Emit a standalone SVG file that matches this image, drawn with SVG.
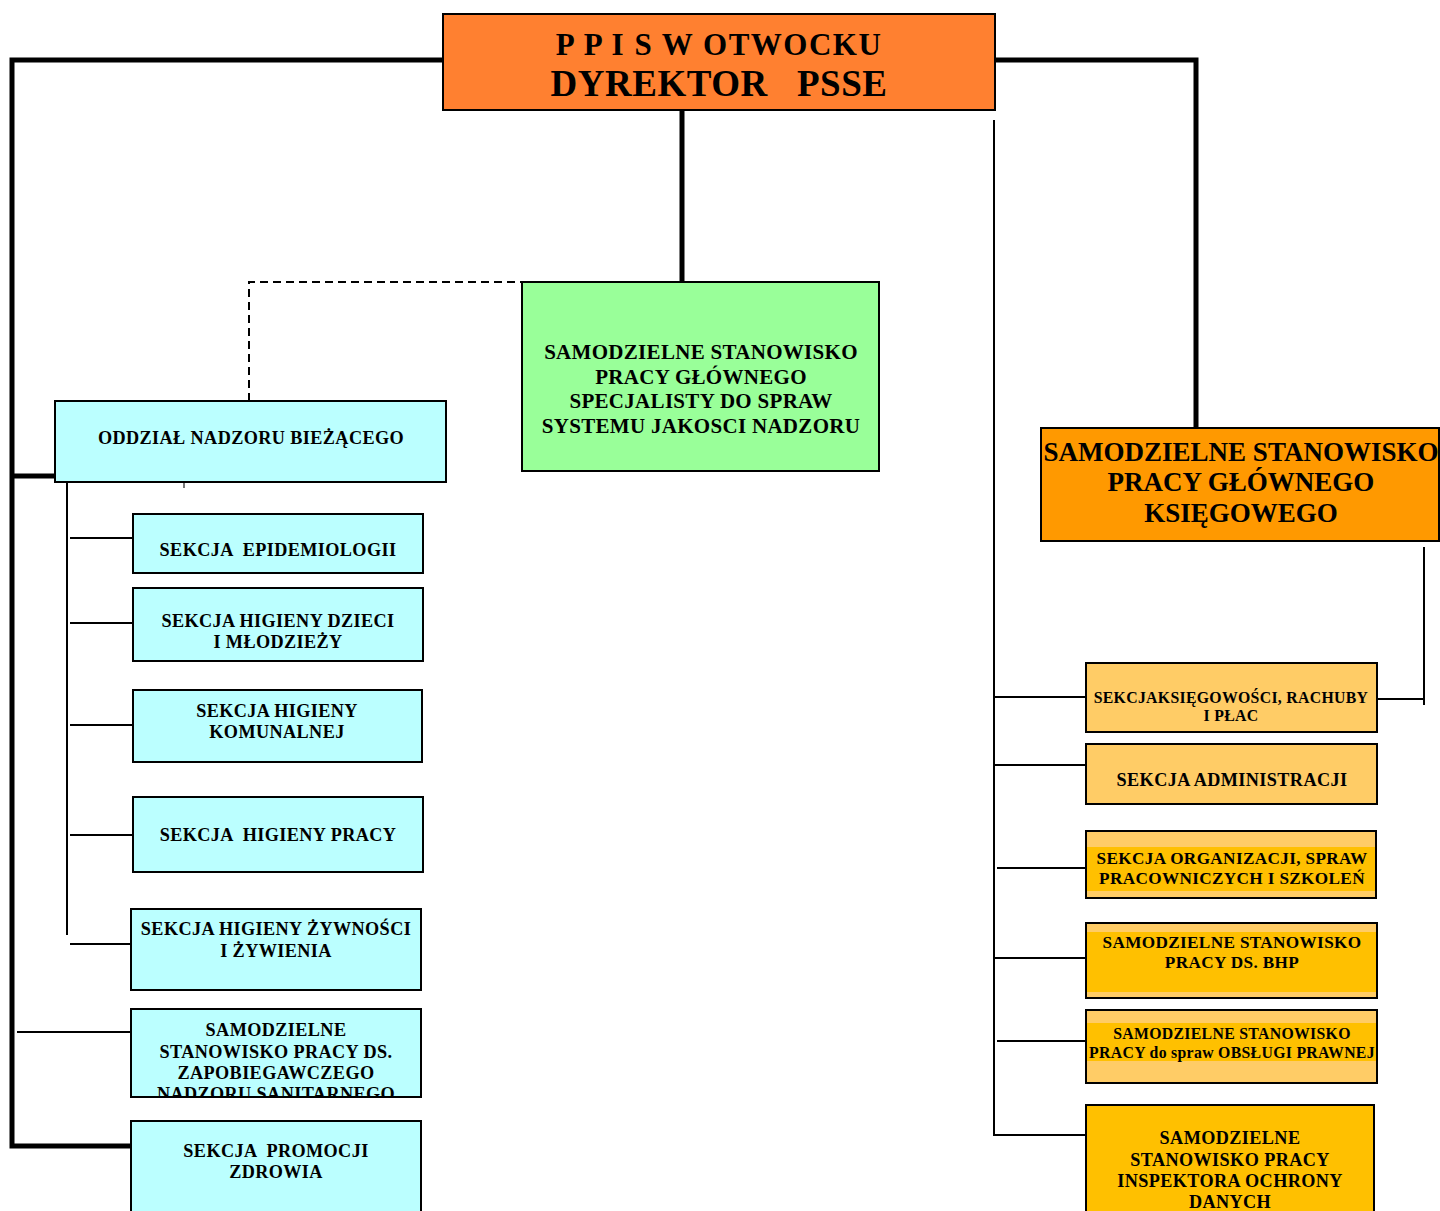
<svg xmlns="http://www.w3.org/2000/svg" width="1440" height="1211" viewBox="0 0 1440 1211">
<defs>
<style>
text{font-family:"Liberation Serif","Times New Roman",serif;font-weight:bold;fill:#000;text-anchor:middle}
.box{stroke:#000;stroke-width:2}
.cyan{fill:#BBFFFF}
.lo{fill:#FFCC66}
.band{fill:#FFC000}
.thick{stroke:#000;stroke-width:5;fill:none}
.thin{stroke:#000;stroke-width:2;fill:none}
.s17{font-size:18.2px;letter-spacing:0.4px}
.s16{font-size:17.2px;letter-spacing:0.35px}
.s15{font-size:15.8px;letter-spacing:0.3px}
.g{font-size:21px;letter-spacing:0.3px}
</style>
<clipPath id="c6"><rect x="131" y="1009" width="290" height="87"/></clipPath>
</defs>
<rect width="1440" height="1211" fill="#fff"/>
<g id="connectors">
<polyline class="thick" points="443,60 12,60 12,1146 131,1146"/>
<line class="thick" x1="14" y1="476" x2="55" y2="476"/>
<line class="thick" x1="682" y1="110" x2="682" y2="282"/>
<polyline class="thick" points="995,60 1196,60 1196,428"/>
<polyline fill="none" stroke="#000" stroke-width="2" stroke-dasharray="8,5" points="249,401 249,282 580,282"/>
<line class="thin" x1="67" y1="482" x2="67" y2="935"/>
<line x1="184" y1="482" x2="184" y2="488" stroke="#777" stroke-width="2"/>
<line class="thin" x1="70" y1="538" x2="133" y2="538"/>
<line class="thin" x1="70" y1="623" x2="133" y2="623"/>
<line class="thin" x1="70" y1="725" x2="133" y2="725"/>
<line class="thin" x1="70" y1="835" x2="133" y2="835"/>
<line class="thin" x1="70" y1="944" x2="131" y2="944"/>
<line class="thin" x1="17" y1="1032" x2="131" y2="1032"/>
<line class="thin" x1="994" y1="120" x2="994" y2="1136"/>
<line class="thin" x1="994" y1="697" x2="1086" y2="697"/>
<line class="thin" x1="994" y1="765" x2="1086" y2="765"/>
<line class="thin" x1="997" y1="868" x2="1086" y2="868"/>
<line class="thin" x1="994" y1="958" x2="1086" y2="958"/>
<line class="thin" x1="997" y1="1041" x2="1086" y2="1041"/>
<line class="thin" x1="994" y1="1135" x2="1086" y2="1135"/>
<polyline class="thin" points="1424,547 1424,705"/>
<line class="thin" x1="1377" y1="699" x2="1424" y2="699"/>
</g>
<g id="n-dyrektor">
<rect class="box" x="443" y="14" width="552" height="96" fill="#FF8030"/>
<text x="719" y="55" font-size="31" letter-spacing="1.5">P P I S  W OTWOCKU</text>
<text x="719" y="96" font-size="37" letter-spacing="0.5" xml:space="preserve">DYREKTOR   PSSE</text>
</g>
<g id="n-jakosc">
<rect class="box" x="522" y="282" width="357" height="189" fill="#99FF99"/>
<text x="701" y="359" class="g">SAMODZIELNE STANOWISKO</text>
<text x="701" y="384" class="g">PRACY GŁÓWNEGO</text>
<text x="701" y="408" class="g">SPECJALISTY DO SPRAW</text>
<text x="701" y="433" class="g">SYSTEMU JAKOSCI NADZORU</text>
</g>
<g id="n-oddzial">
<rect class="box cyan" x="55" y="401" width="391" height="81"/>
<text x="251" y="444" class="s17">ODDZIAŁ NADZORU BIEŻĄCEGO</text>
</g>
<g id="n-epid">
<rect class="box cyan" x="133" y="514" width="290" height="59"/>
<text x="278" y="556" class="s17" xml:space="preserve">SEKCJA  EPIDEMIOLOGII</text>
</g>
<g id="n-dzieci">
<rect class="box cyan" x="133" y="588" width="290" height="73"/>
<text x="278" y="627" class="s17">SEKCJA HIGIENY DZIECI</text>
<text x="278" y="648" class="s17">I MŁODZIEŻY</text>
</g>
<g id="n-komunalna">
<rect class="box cyan" x="133" y="690" width="289" height="72"/>
<text x="277" y="717" class="s17">SEKCJA HIGIENY</text>
<text x="277" y="738" class="s17">KOMUNALNEJ</text>
</g>
<g id="n-pracy">
<rect class="box cyan" x="133" y="797" width="290" height="75"/>
<text x="278" y="841" class="s17" xml:space="preserve">SEKCJA  HIGIENY PRACY</text>
</g>
<g id="n-zywnosc">
<rect class="box cyan" x="131" y="909" width="290" height="81"/>
<text x="276" y="935" class="s17">SEKCJA HIGIENY ŻYWNOŚCI</text>
<text x="276" y="957" class="s17">I ŻYWIENIA</text>
</g>
<g id="n-zapobiegawczy">
<rect class="box cyan" x="131" y="1009" width="290" height="88"/>
<g clip-path="url(#c6)">
<text x="276" y="1036" class="s17">SAMODZIELNE</text>
<text x="276" y="1058" class="s17">STANOWISKO PRACY DS.</text>
<text x="276" y="1079" class="s17">ZAPOBIEGAWCZEGO</text>
<text x="276" y="1100" class="s17">NADZORU SANITARNEGO</text>
</g>
</g>
<g id="n-promocja">
<rect class="box cyan" x="131" y="1121" width="290" height="95"/>
<text x="276" y="1157" class="s17" xml:space="preserve">SEKCJA  PROMOCJI</text>
<text x="276" y="1178" class="s17">ZDROWIA</text>
</g>
<g id="n-ksiegowy">
<rect class="box" x="1041" y="428" width="398" height="113" fill="#FF9900"/>
<text x="1241" y="461" font-size="27">SAMODZIELNE STANOWISKO</text>
<text x="1241" y="491" font-size="27">PRACY GŁÓWNEGO</text>
<text x="1241" y="522" font-size="27">KSIĘGOWEGO</text>
</g>
<g id="n-rachuby">
<rect class="box lo" x="1086" y="663" width="291" height="69"/>
<text x="1231" y="703" class="s15">SEKCJAKSIĘGOWOŚCI, RACHUBY</text>
<text x="1231" y="721" class="s15">I PŁAC</text>
</g>
<g id="n-admin">
<rect class="box lo" x="1086" y="744" width="291" height="60"/>
<text x="1232" y="786" class="s17">SEKCJA ADMINISTRACJI</text>
</g>
<g id="n-organizacja">
<rect class="box lo" x="1086" y="831" width="290" height="67"/>
<rect class="band" x="1087" y="847" width="288" height="44"/>
<text x="1232" y="864" class="s16">SEKCJA ORGANIZACJI, SPRAW</text>
<text x="1232" y="884" class="s16">PRACOWNICZYCH I SZKOLEŃ</text>
</g>
<g id="n-bhp">
<rect class="box lo" x="1086" y="923" width="291" height="75"/>
<rect class="band" x="1087" y="932" width="289" height="60"/>
<text x="1232" y="948" class="s16">SAMODZIELNE STANOWISKO</text>
<text x="1232" y="968" class="s16">PRACY DS. BHP</text>
</g>
<g id="n-prawna">
<rect class="box lo" x="1086" y="1010" width="291" height="73"/>
<rect class="band" x="1087" y="1023" width="289" height="38"/>
<text x="1232" y="1039" class="s15">SAMODZIELNE STANOWISKO</text>
<text x="1232" y="1058" class="s15">PRACY do spraw OBSŁUGI PRAWNEJ</text>
</g>
<g id="n-iod">
<rect class="box band" x="1086" y="1105" width="288" height="110"/>
<text x="1230" y="1144" class="s17">SAMODZIELNE</text>
<text x="1230" y="1166" class="s17">STANOWISKO PRACY</text>
<text x="1230" y="1187" class="s17">INSPEKTORA OCHRONY</text>
<text x="1230" y="1208" class="s17">DANYCH</text>
</g>
</svg>
